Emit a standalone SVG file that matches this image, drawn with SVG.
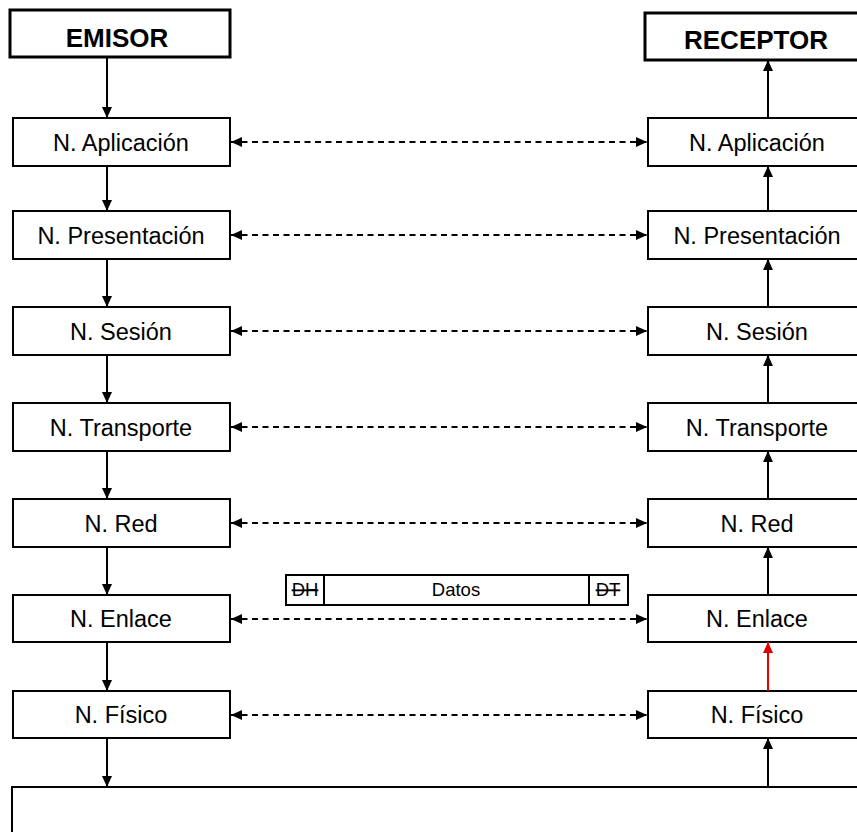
<svg xmlns="http://www.w3.org/2000/svg" width="857" height="832" viewBox="0 0 857 832">
  <style>
    .box { fill: #fff; stroke: #000; stroke-width: 2; }
    .head { fill: #fff; stroke: #000; stroke-width: 3; }
    .lbl { font-family: "Liberation Sans", Arial, sans-serif; font-size: 23.5px; fill: #000; text-anchor: middle; }
    .ttl { font-family: "Liberation Sans", Arial, sans-serif; font-size: 26px; font-weight: bold; fill: #000; text-anchor: middle; }
    .pdu { font-family: "Liberation Sans", Arial, sans-serif; font-size: 18.5px; fill: #000; text-anchor: middle; }
    .flow { stroke: #000; stroke-width: 2; fill: none; marker-end: url(#tip); }
    .red { stroke: #e00000; stroke-width: 2; fill: none; marker-end: url(#tipRed); }
    .peer { stroke: #000; stroke-width: 2; fill: none; stroke-dasharray: 6 4.5; marker-start: url(#tipStart); marker-end: url(#tip); }
  </style>
  <defs>
    <marker id="tip" markerWidth="11" markerHeight="10" refX="11" refY="5" orient="auto" markerUnits="userSpaceOnUse">
      <path d="M0,0 L11,5 L0,10 Z" fill="#000"/>
    </marker>
    <marker id="tipStart" markerWidth="11" markerHeight="10" refX="0" refY="5" orient="auto" markerUnits="userSpaceOnUse">
      <path d="M11,0 L0,5 L11,10 Z" fill="#000"/>
    </marker>
    <marker id="tipRed" markerWidth="11" markerHeight="10" refX="11" refY="5" orient="auto" markerUnits="userSpaceOnUse">
      <path d="M0,0 L11,5 L0,10 Z" fill="#e00000"/>
    </marker>
  </defs>
  <rect width="857" height="832" fill="#fff"/>

  <!-- sender / receiver headers -->
  <g id="emisor">
    <rect class="head" x="10" y="10" width="220" height="47"/>
    <text class="ttl" x="117" y="47">EMISOR</text>
  </g>
  <g id="receptor">
    <rect class="head" x="645" y="13" width="222" height="47"/>
    <text class="ttl" x="756" y="49">RECEPTOR</text>
  </g>

  <!-- sender stack -->
  <g id="tx-aplicacion"><rect class="box" x="13" y="118" width="217" height="48"/><text class="lbl" x="121" y="151">N. Aplicación</text></g>
  <g id="tx-presentacion"><rect class="box" x="13" y="211" width="217" height="48"/><text class="lbl" x="121" y="244">N. Presentación</text></g>
  <g id="tx-sesion"><rect class="box" x="13" y="307" width="217" height="48"/><text class="lbl" x="121" y="340">N. Sesión</text></g>
  <g id="tx-transporte"><rect class="box" x="13" y="403" width="217" height="48"/><text class="lbl" x="121" y="436">N. Transporte</text></g>
  <g id="tx-red"><rect class="box" x="13" y="499" width="217" height="48"/><text class="lbl" x="121" y="532">N. Red</text></g>
  <g id="tx-enlace"><rect class="box" x="13" y="595" width="217" height="47"/><text class="lbl" x="121" y="627">N. Enlace</text></g>
  <g id="tx-fisico"><rect class="box" x="13" y="691" width="217" height="47"/><text class="lbl" x="121" y="723">N. Físico</text></g>

  <!-- receiver stack -->
  <g id="rx-aplicacion"><rect class="box" x="648" y="118" width="217" height="48"/><text class="lbl" x="757" y="151">N. Aplicación</text></g>
  <g id="rx-presentacion"><rect class="box" x="648" y="211" width="217" height="48"/><text class="lbl" x="757" y="244">N. Presentación</text></g>
  <g id="rx-sesion"><rect class="box" x="648" y="307" width="217" height="48"/><text class="lbl" x="757" y="340">N. Sesión</text></g>
  <g id="rx-transporte"><rect class="box" x="648" y="403" width="217" height="48"/><text class="lbl" x="757" y="436">N. Transporte</text></g>
  <g id="rx-red"><rect class="box" x="648" y="499" width="217" height="48"/><text class="lbl" x="757" y="532">N. Red</text></g>
  <g id="rx-enlace"><rect class="box" x="648" y="595" width="217" height="47"/><text class="lbl" x="757" y="627">N. Enlace</text></g>
  <g id="rx-fisico"><rect class="box" x="648" y="691" width="217" height="47"/><text class="lbl" x="757" y="723">N. Físico</text></g>

  <!-- physical medium -->
  <g id="medio">
    <rect class="box" x="12" y="787" width="860" height="60"/>
  </g>

  <!-- frame: header, data, trailer -->
  <g id="trama">
    <rect class="box" x="286" y="575" width="342" height="30"/>
    <line x1="324" y1="575" x2="324" y2="605" stroke="#000" stroke-width="2"/>
    <line x1="589" y1="575" x2="589" y2="605" stroke="#000" stroke-width="2"/>
    <text class="pdu" x="305" y="596" text-decoration="line-through">DH</text>
    <text class="pdu" x="456" y="596">Datos</text>
    <text class="pdu" x="608" y="596" text-decoration="line-through">DT</text>
  </g>

  <g id="connectors">
    <!-- downward flow in sender -->
    <line class="flow" x1="107" y1="57" x2="107" y2="118"/>
    <line class="flow" x1="107" y1="166" x2="107" y2="211"/>
    <line class="flow" x1="107" y1="259" x2="107" y2="307"/>
    <line class="flow" x1="107" y1="355" x2="107" y2="403"/>
    <line class="flow" x1="107" y1="451" x2="107" y2="499"/>
    <line class="flow" x1="107" y1="547" x2="107" y2="595"/>
    <line class="flow" x1="107" y1="642" x2="107" y2="691"/>
    <line class="flow" x1="107" y1="738" x2="107" y2="787"/>

    <!-- upward flow in receiver -->
    <line class="flow" x1="768" y1="787" x2="768" y2="738"/>
    <line class="red" x1="768" y1="691" x2="768" y2="642"/>
    <line class="flow" x1="768" y1="595" x2="768" y2="547"/>
    <line class="flow" x1="768" y1="499" x2="768" y2="451"/>
    <line class="flow" x1="768" y1="403" x2="768" y2="355"/>
    <line class="flow" x1="768" y1="307" x2="768" y2="259"/>
    <line class="flow" x1="768" y1="211" x2="768" y2="166"/>
    <line class="flow" x1="768" y1="118" x2="768" y2="60"/>

    <!-- peer-to-peer links -->
    <line class="peer" x1="231" y1="142" x2="647" y2="142"/>
    <line class="peer" x1="231" y1="235" x2="647" y2="235"/>
    <line class="peer" x1="231" y1="331" x2="647" y2="331"/>
    <line class="peer" x1="231" y1="427" x2="647" y2="427"/>
    <line class="peer" x1="231" y1="523" x2="647" y2="523"/>
    <line class="peer" x1="231" y1="619" x2="647" y2="619"/>
    <line class="peer" x1="231" y1="715" x2="647" y2="715"/>
  </g>
</svg>
